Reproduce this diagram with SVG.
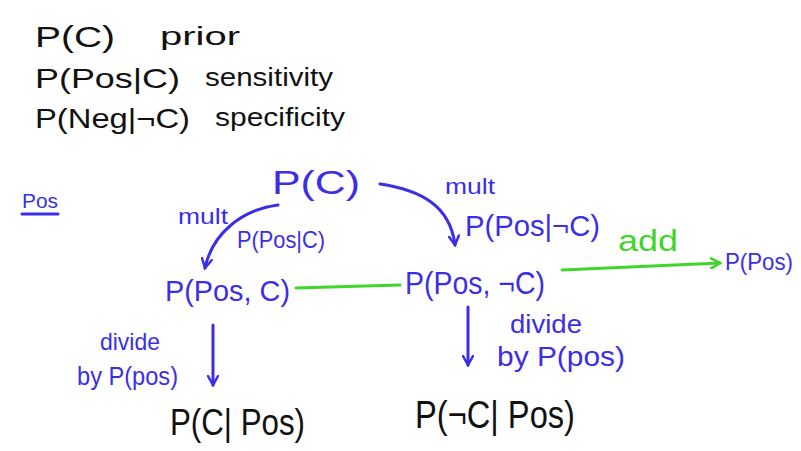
<svg xmlns="http://www.w3.org/2000/svg" width="801" height="451" viewBox="0 0 801 451">
<style>
text{font-family:"Liberation Sans","DejaVu Sans",sans-serif}
.k{fill:#111}
.b{fill:#3b2ee6}
.g{fill:#3ed628}
.bl{stroke:#3b2ee6;stroke-width:3;fill:none;stroke-linecap:round}
.gl{stroke:#3ed628;stroke-width:3;fill:none;stroke-linecap:round}
</style>
<defs>
<marker id="ab" viewBox="0 0 12 12" refX="10" refY="6" markerWidth="12" markerHeight="12" markerUnits="userSpaceOnUse" orient="auto"><path d="M1,1 L10,6 L1,11" fill="none" stroke="#3b2ee6" stroke-width="2.5" stroke-linecap="round"/></marker>
<marker id="ag" viewBox="0 0 12 12" refX="10" refY="6" markerWidth="12" markerHeight="12" markerUnits="userSpaceOnUse" orient="auto"><path d="M1,1 L10,6 L1,11" fill="none" stroke="#3ed628" stroke-width="2.5" stroke-linecap="round"/></marker>
</defs>
<g id="legend">
<text class="k" x="35" y="47" font-size="30" textLength="80" lengthAdjust="spacingAndGlyphs">P(C)</text>
<text class="k" x="160" y="45" font-size="26" textLength="80" lengthAdjust="spacingAndGlyphs">prior</text>
<text class="k" x="35" y="88" font-size="28" textLength="145" lengthAdjust="spacingAndGlyphs">P(Pos|C)</text>
<text class="k" x="205" y="86" font-size="26" textLength="128" lengthAdjust="spacingAndGlyphs">sensitivity</text>
<text class="k" x="35" y="128" font-size="28" textLength="155" lengthAdjust="spacingAndGlyphs">P(Neg|¬C)</text>
<text class="k" x="215" y="126" font-size="26" textLength="130" lengthAdjust="spacingAndGlyphs">specificity</text>
</g>
<g id="pos-label">
<text class="b" x="22" y="208" font-size="20" textLength="36" lengthAdjust="spacingAndGlyphs">Pos</text>
<line class="bl" x1="22" y1="214" x2="58" y2="214" stroke-width="2"/>
</g>
<g id="connectors">
<path class="bl" d="M278,205 C240,210 212,235 205,268" marker-end="url(#ab)"/>
<path class="bl" d="M380,184 C420,190 450,205 455,245" marker-end="url(#ab)"/>
<line class="gl" x1="296" y1="288" x2="400" y2="285"/>
<line class="gl" x1="562" y1="270" x2="720" y2="263" marker-end="url(#ag)"/>
<line class="bl" x1="213" y1="325" x2="213" y2="385" marker-end="url(#ab)"/>
<line class="bl" x1="468" y1="307" x2="468" y2="365" marker-end="url(#ab)"/>
</g>
<g id="edge-labels">
<text class="b" x="178" y="224" font-size="22" textLength="50" lengthAdjust="spacingAndGlyphs">mult</text>
<text class="b" x="237" y="248" font-size="24" textLength="88" lengthAdjust="spacingAndGlyphs">P(Pos|C)</text>
<text class="b" x="445" y="194" font-size="22" textLength="50" lengthAdjust="spacingAndGlyphs">mult</text>
<text class="b" x="465" y="236" font-size="30" textLength="135" lengthAdjust="spacingAndGlyphs">P(Pos|¬C)</text>
<text class="g" x="618" y="251" font-size="30" textLength="60" lengthAdjust="spacingAndGlyphs">add</text>
<text class="b" x="100" y="350" font-size="24" textLength="60" lengthAdjust="spacingAndGlyphs">divide</text>
<text class="b" x="77" y="385" font-size="26" textLength="101" lengthAdjust="spacingAndGlyphs">by P(pos)</text>
<text class="b" x="510" y="333" font-size="26" textLength="72" lengthAdjust="spacingAndGlyphs">divide</text>
<text class="b" x="497" y="366" font-size="28" textLength="128" lengthAdjust="spacingAndGlyphs">by P(pos)</text>
</g>
<g id="node-pc"><text class="b" x="272" y="194" font-size="34" textLength="88" lengthAdjust="spacingAndGlyphs">P(C)</text></g>
<g id="node-pos-c"><text class="b" x="165" y="301" font-size="30" textLength="125" lengthAdjust="spacingAndGlyphs">P(Pos, C)</text></g>
<g id="node-pos-notc"><text class="b" x="405" y="294" font-size="32" textLength="140" lengthAdjust="spacingAndGlyphs">P(Pos, ¬C)</text></g>
<g id="node-ppos"><text class="b" x="725" y="270" font-size="24" textLength="68" lengthAdjust="spacingAndGlyphs">P(Pos)</text></g>
<g id="node-c-pos"><text class="k" x="170" y="435" font-size="36" textLength="135" lengthAdjust="spacingAndGlyphs">P(C| Pos)</text></g>
<g id="node-notc-pos"><text class="k" x="415" y="428" font-size="38" textLength="160" lengthAdjust="spacingAndGlyphs">P(¬C| Pos)</text></g>
</svg>
